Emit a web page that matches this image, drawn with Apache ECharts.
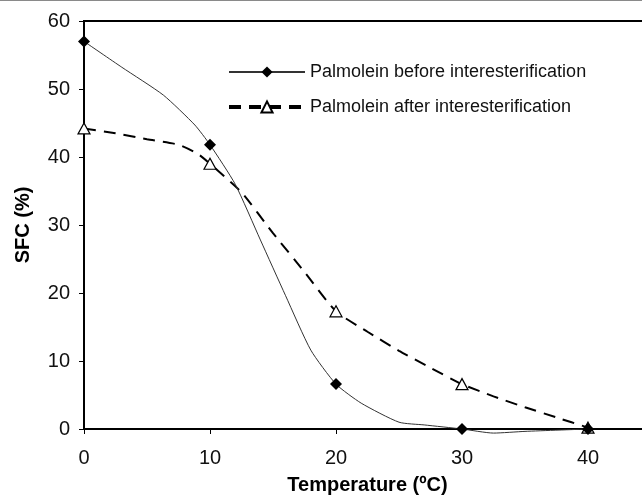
<!DOCTYPE html>
<html>
<head>
<meta charset="utf-8">
<script src="https://cdn.jsdelivr.net/npm/echarts@6/dist/echarts.min.js"></script>
<style>
html,body{margin:0;padding:0;background:#fff;}
#wrap{position:relative;width:642px;height:495px;}
#chart{width:642px;height:495px;}
#topline{position:absolute;left:0;top:0;width:642px;height:1px;background:#8a8a8a;z-index:5;}
</style>
</head>
<body>
<div id="wrap"><div id="chart"></div><div id="topline"></div></div>
<script>
// Data
const beforeName = 'Palmolein before interesterification';
const afterName = 'Palmolein after interesterification';
const beforeX = [0, 3, 6.3, 8.8, 10, 12, 14, 16, 18, 20, 22, 25, 27, 30, 32.5, 35, 40];
const beforeY = [57, 53.2, 49.1, 44.7, 41.8, 36, 27.8, 19.6, 11.6, 6.6, 3.8, 1.0, 0.6, 0, -0.6, -0.35, 0];
const afterX = [0, 2.5, 5, 7.5, 9, 10, 12.5, 15, 17.5, 20, 22.5, 25, 27.5, 30, 32.5, 35, 37.5, 40];
const afterY = [44.2, 43.5, 42.6, 41.8, 40.5, 39, 34.8, 28.8, 23.1, 17.3, 14.3, 11.5, 9, 6.6, 4.8, 3.2, 1.7, 0.2];
const markerX = [0, 10, 20, 30, 40];
const xTicks = [0, 10, 20, 30, 40];
const yTicks = [0, 10, 20, 30, 40, 50, 60];

function build(xs, ys) {
  return xs.map((x, i) => markerX.includes(x) ? { value: [x, ys[i]] } : { value: [x, ys[i]], symbol: 'none' });
}

const chart = echarts.init(document.getElementById('chart'), null, { renderer: 'canvas' });
const font = 'Arial, "Liberation Sans", Helvetica, sans-serif';
chart.setOption({
  animation: false,
  backgroundColor: '#fff',
  textStyle: { fontFamily: font },
  grid: {
    left: 84, top: 21, width: 567, height: 408,
    outerBoundsMode: 'none', containLabel: false,
    show: true, borderColor: '#000', borderWidth: 2, backgroundColor: 'transparent'
  },
  legend: {
    orient: 'vertical', left: 222, top: 58,
    itemWidth: 76, itemHeight: 14, itemGap: 17,
    textStyle: { fontSize: 18, color: '#111', fontFamily: font },
    data: [
      { name: beforeName },
      { name: afterName, lineStyle: { width: 4 } }
    ]
  },
  xAxis: {
    type: 'value', min: 0, max: 45, interval: 10,
    name: 'Temperature (ºC)', nameLocation: 'middle', nameGap: 46,
    nameTextStyle: { fontSize: 20, fontWeight: 'bold', color: '#000', fontFamily: font },
    axisLine: { show: true, lineStyle: { color: '#000', width: 2 } },
    axisTick: { show: true, length: 5, lineStyle: { color: '#000', width: 1 } },
    axisLabel: { fontSize: 20, color: '#111', margin: 19, showMaxLabel: false,
      formatter: v => xTicks.includes(v) ? String(v) : '' },
    splitLine: { show: false }
  },
  yAxis: {
    type: 'value', min: 0, max: 60, interval: 10,
    name: 'SFC (%)', nameLocation: 'middle', nameGap: 51,
    nameTextStyle: { fontSize: 20, fontWeight: 'bold', color: '#000', fontFamily: font },
    axisLine: { show: true, lineStyle: { color: '#000', width: 2 } },
    axisTick: { show: true, length: 5, lineStyle: { color: '#000', width: 1 } },
    axisLabel: { fontSize: 20, color: '#111', margin: 14,
      formatter: v => yTicks.includes(v) ? String(v) : '' },
    splitLine: { show: false }
  },
  series: [
    {
      name: beforeName, type: 'line', smooth: 0.2, clip: false,
      symbol: 'diamond', symbolSize: 12, showAllSymbol: true,
      lineStyle: { color: '#333', width: 1 },
      itemStyle: { color: '#000', borderColor: '#000', borderWidth: 0 },
      data: build(beforeX, beforeY), z: 3
    },
    {
      name: afterName, type: 'line', smooth: 0.2, clip: false,
      symbol: 'triangle', symbolSize: [12, 11], showAllSymbol: true,
      lineStyle: { color: '#000', width: 2, type: [12, 8] },
      itemStyle: { color: '#fff', borderColor: '#000', borderWidth: 1.2 },
      data: build(afterX, afterY), z: 2
    }
  ]
});
</script>
</body>
</html>
